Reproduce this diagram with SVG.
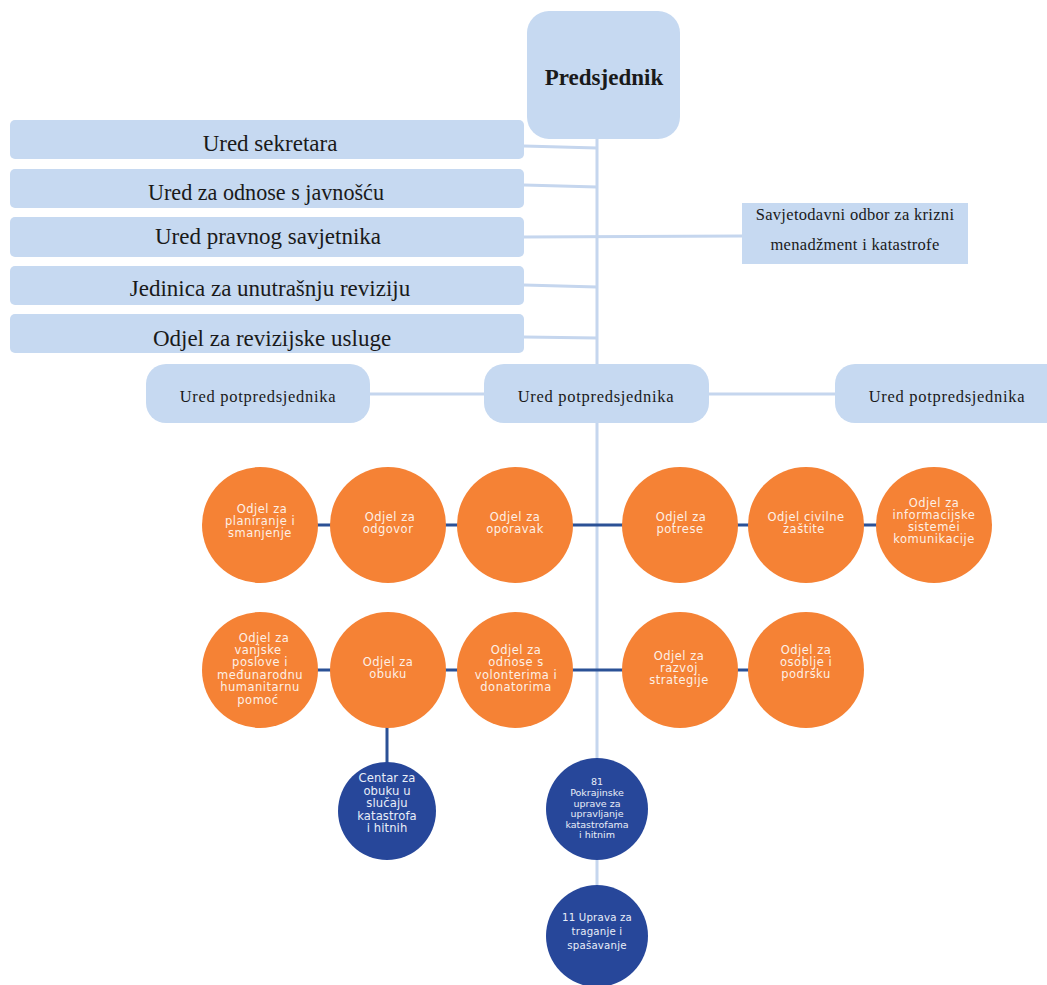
<svg xmlns="http://www.w3.org/2000/svg" width="1047" height="985" viewBox="0 0 1047 985">
<style>
.box{fill:#c6d9f1}
.lc{stroke:#c5d6ee;stroke-width:3;fill:none}
.dc{stroke:#2b5196;stroke-width:3;fill:none}
.st{font-family:"Liberation Serif","Times New Roman",serif;fill:#1a1a1a;text-anchor:middle}
.big{font-size:23px}
.vp{font-size:16.5px;letter-spacing:0.7px}
.sv{font-size:16.5px;letter-spacing:0.3px}
.or{fill:#f58235}
.bl{fill:#27479a}
.ct{font-family:"DejaVu Sans","Verdana",sans-serif;font-size:11.5px;letter-spacing:0.5px;text-anchor:middle;fill:#fdf0e6}
.cb{font-family:"DejaVu Sans","Verdana",sans-serif;text-anchor:middle;fill:#e9eef8}
.c1{font-size:11.6px;letter-spacing:0.1px}
.c2{font-size:9.5px}
.c3{font-size:10.2px;letter-spacing:0.2px}
</style>
<rect width="1047" height="985" fill="#ffffff"/>
<g id="connectors">
<line class="lc" x1="597" y1="139" x2="597" y2="885"/>
<line class="lc" x1="524" y1="146" x2="597" y2="148"/>
<line class="lc" x1="524" y1="185" x2="597" y2="187"/>
<line class="lc" x1="524" y1="237" x2="742" y2="236"/>
<line class="lc" x1="524" y1="285" x2="597" y2="287"/>
<line class="lc" x1="524" y1="337" x2="597" y2="338"/>
<line class="lc" x1="370" y1="394" x2="835" y2="394"/>
<line class="dc" x1="259" y1="525" x2="934" y2="525"/>
<line class="dc" x1="259" y1="670" x2="806" y2="670"/>
<line class="dc" x1="387" y1="700" x2="387" y2="770"/>
</g>
<g id="predsjednik">
<rect class="box" x="527" y="11" width="153" height="128" rx="22"/>
<text class="st" x="604" y="85" style="font-size:23px;font-weight:bold">Predsjednik</text>
</g>
<g id="ured-sekretara">
<rect class="box" x="10" y="120" width="514" height="39" rx="5"/>
<text class="st big" x="270" y="151">Ured sekretara</text>
</g>
<g id="ured-javnost">
<rect class="box" x="10" y="169" width="514" height="39" rx="5"/>
<text class="st big" x="266" y="200" textLength="236" lengthAdjust="spacingAndGlyphs">Ured za odnose s javnošću</text>
</g>
<g id="ured-pravnog">
<rect class="box" x="10" y="217" width="514" height="40" rx="5"/>
<text class="st big" x="268" y="244">Ured pravnog savjetnika</text>
</g>
<g id="jedinica-revizija">
<rect class="box" x="10" y="266" width="514" height="39" rx="5"/>
<text class="st big" x="270" y="296">Jedinica za unutrašnju reviziju</text>
</g>
<g id="odjel-revizijske">
<rect class="box" x="10" y="314" width="514" height="39" rx="5"/>
<text class="st big" x="272" y="346">Odjel za revizijske usluge</text>
</g>
<g id="savjetodavni">
<rect class="box" x="742" y="203" width="226" height="61"/>
<text class="st sv" x="855" y="220">Savjetodavni odbor za krizni</text>
<text class="st sv" x="855" y="250">menadžment i katastrofe</text>
</g>
<g id="potpredsjednik-1">
<rect class="box" x="146" y="364" width="224" height="59" rx="20"/>
<text class="st vp" x="258" y="402">Ured potpredsjednika</text>
</g>
<g id="potpredsjednik-2">
<rect class="box" x="484" y="364" width="225" height="59" rx="20"/>
<text class="st vp" x="596" y="402">Ured potpredsjednika</text>
</g>
<g id="potpredsjednik-3">
<rect class="box" x="835" y="364" width="230" height="59" rx="20"/>
<text class="st vp" x="947" y="402">Ured potpredsjednika</text>
</g>
<g id="odjel-planiranje">
<circle class="or" cx="260" cy="525" r="58"/>
<text class="ct" x="262" y="513">Odjel za</text>
<text class="ct" x="260" y="525">planiranje i</text>
<text class="ct" x="260" y="537">smanjenje</text>
</g>
<g id="odjel-odgovor">
<circle class="or" cx="388" cy="525" r="58"/>
<text class="ct" x="390" y="521">Odjel za</text>
<text class="ct" x="388" y="533">odgovor</text>
</g>
<g id="odjel-oporavak">
<circle class="or" cx="515" cy="525" r="58"/>
<text class="ct" x="515" y="521">Odjel za</text>
<text class="ct" x="515" y="533">oporavak</text>
</g>
<g id="odjel-potrese">
<circle class="or" cx="680" cy="525" r="58"/>
<text class="ct" x="681" y="521">Odjel za</text>
<text class="ct" x="680" y="533">potrese</text>
</g>
<g id="odjel-civilne">
<circle class="or" cx="806" cy="525" r="58"/>
<text class="ct" x="806" y="521">Odjel civilne</text>
<text class="ct" x="804" y="533">zaštite</text>
</g>
<g id="odjel-informacijske">
<circle class="or" cx="934" cy="525" r="58"/>
<text class="ct" x="934" y="507">Odjel za</text>
<text class="ct" x="934" y="519">informacijske</text>
<text class="ct" x="934" y="531">sistemei</text>
<text class="ct" x="934" y="543">komunikacije</text>
</g>
<g id="odjel-vanjske">
<circle class="or" cx="260" cy="670" r="58"/>
<text class="ct" x="264" y="642">Odjel za</text>
<text class="ct" x="258" y="654">vanjske</text>
<text class="ct" x="260" y="666">poslove i</text>
<text class="ct" x="260" y="679">međunarodnu</text>
<text class="ct" x="260" y="691">humanitarnu</text>
<text class="ct" x="258" y="704">pomoć</text>
</g>
<g id="odjel-obuku">
<circle class="or" cx="388" cy="670" r="58"/>
<text class="ct" x="388" y="666">Odjel za</text>
<text class="ct" x="388" y="678">obuku</text>
</g>
<g id="odjel-volonteri">
<circle class="or" cx="515" cy="670" r="58"/>
<text class="ct" x="516" y="654">Odjel za</text>
<text class="ct" x="516" y="666">odnose s</text>
<text class="ct" x="516" y="679">volonterima i</text>
<text class="ct" x="516" y="691">donatorima</text>
</g>
<g id="odjel-razvoj">
<circle class="or" cx="680" cy="670" r="58"/>
<text class="ct" x="679" y="660">Odjel za</text>
<text class="ct" x="679" y="672">razvoj</text>
<text class="ct" x="679" y="684">strategije</text>
</g>
<g id="odjel-osoblje">
<circle class="or" cx="806" cy="670" r="58"/>
<text class="ct" x="806" y="654">Odjel za</text>
<text class="ct" x="806" y="666">osoblje i</text>
<text class="ct" x="806" y="678">podršku</text>
</g>
<g id="centar-obuka">
<circle class="bl" cx="387" cy="811" r="49"/>
<text class="cb c1" x="387" y="782">Centar za</text>
<text class="cb c1" x="387" y="795">obuku u</text>
<text class="cb c1" x="387" y="807">slučaju</text>
<text class="cb c1" x="387" y="820">katastrofa</text>
<text class="cb c1" x="387" y="832">i hitnih</text>
</g>
<g id="pokrajinske-uprave">
<circle class="bl" cx="597" cy="809" r="51"/>
<text class="cb c2" x="597" y="785">81</text>
<text class="cb c2" x="597" y="796">Pokrajinske</text>
<text class="cb c2" x="597" y="807">uprave za</text>
<text class="cb c2" x="597" y="817">upravljanje</text>
<text class="cb c2" x="597" y="828">katastrofama</text>
<text class="cb c2" x="597" y="838">i hitnim</text>
</g>
<g id="uprava-traganje">
<circle class="bl" cx="597" cy="936" r="51"/>
<text class="cb c3" x="597" y="921">11 Uprava za</text>
<text class="cb c3" x="597" y="935">traganje i</text>
<text class="cb c3" x="597" y="949">spašavanje</text>
</g>
</svg>
